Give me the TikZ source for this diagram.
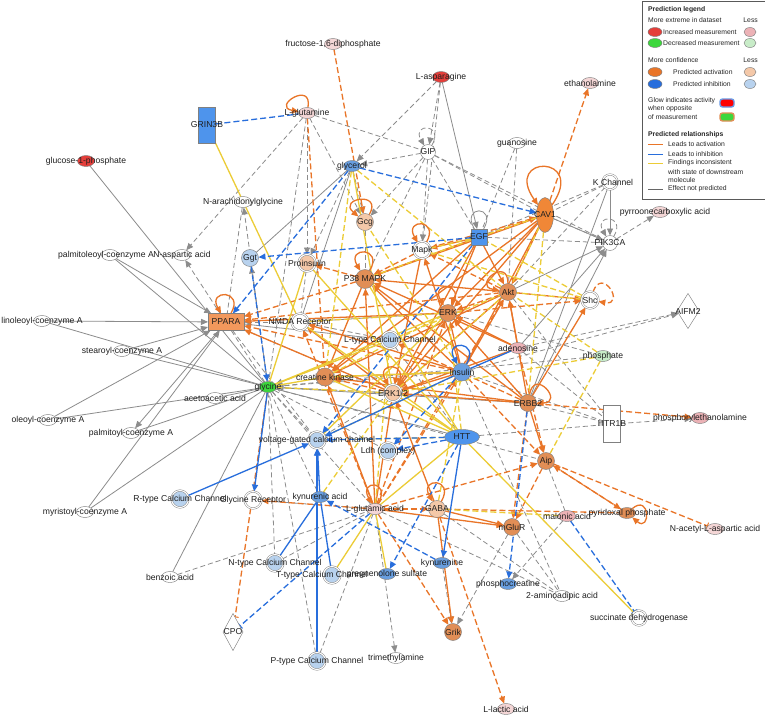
\documentclass[tikz,border=0pt]{standalone}
\usepackage{fontspec}
\setmainfont{Liberation Sans}
\usetikzlibrary{shapes.geometric,arrows.meta}
\pgfdeclarelayer{back}
\pgfdeclarelayer{bg}
\pgfsetlayers{back,bg,main}
\newcommand\nlab{\fontsize{8.6}{9}\selectfont}
\newcommand\lgd{\fontsize{6.8}{7.5}\selectfont}
\definecolor{cRed}{RGB}{228,62,58}
\definecolor{cPink}{RGB}{236,178,182}
\definecolor{cPinkL}{RGB}{244,214,214}
\definecolor{cGreen}{RGB}{60,215,60}
\definecolor{cGreenL}{RGB}{200,236,200}
\definecolor{cOrS}{RGB}{240,135,55}
\definecolor{cPP}{RGB}{242,152,92}
\definecolor{cOr}{RGB}{225,142,86}
\definecolor{cPeach}{RGB}{244,200,168}
\definecolor{cBlue}{RGB}{78,148,236}
\definecolor{cBlueM}{RGB}{104,158,224}
\definecolor{cBlueL}{RGB}{184,210,238}
\definecolor{eGray}{RGB}{140,140,140}
\definecolor{eOr}{RGB}{233,117,40}
\definecolor{eBl}{RGB}{40,110,220}
\definecolor{eYe}{RGB}{236,204,54}
\tikzset{
 nb/.style={draw=black!50, line width=0.45pt, inner sep=0pt, outer sep=0pt},
 chem/.style={nb, ellipse, minimum width=17pt, minimum height=11pt},
 prot/.style={nb, circle, minimum size=17pt},
 grp/.style={nb, circle, minimum size=17pt, double=white, double distance=1.1pt},
 box/.style={nb, rectangle},
 dia/.style={nb, diamond, fill=white},
 every label/.style={font=\nlab, inner sep=0pt, text=black!88},
 tip/.style={-{Triangle[length=7pt,width=6pt]}},
 bartip/.style={-{Bar[width=7pt,line width=1pt]}},
 gr/.style={line width=0.8pt, draw=eGray},
 grd/.style={gr, dash pattern=on 5pt off 3pt},
 act/.style={line width=1.3pt, draw=eOr},
 actd/.style={act, dash pattern=on 6pt off 3pt},
 inh/.style={line width=1.3pt, draw=eBl},
 inhd/.style={inh, dash pattern=on 6pt off 3pt},
 yel/.style={line width=1.3pt, draw=eYe},
 yeld/.style={yel, dash pattern=on 6pt off 3pt},
 lgt/.style={anchor=west, font=\lgd, inner sep=0pt, text=black!85},
 lgr/.style={anchor=east, font=\lgd, inner sep=0pt, text=black!85},
 lge/.style={nb, ellipse, minimum width=14pt, minimum height=9pt},
 sl/.style={min distance=28pt},
}
\begin{document}
\begin{tikzpicture}[x=1pt,y=1pt]
\useasboundingbox (0,0) rectangle (765,-715);
\begin{pgfonlayer}{back}
\fill[white] (0,0) rectangle (765,-715);
\end{pgfonlayer}
% ---------------- nodes ----------------
\node[chem,fill=cPinkL,label=center:{fructose-1,6-diphosphate}] (fru) at (333,-44) {};
\node[chem,fill=cRed,label=center:{L-asparagine}] (asn) at (441,-77) {};
\node[chem,fill=cPinkL,label=center:{ethanolamine}] (eth) at (590,-83) {};
\node[box,fill=cBlue,minimum width=17pt,minimum height=36pt,label=center:{GRIN3B}] (grin) at (207,-125) {};
\node[chem,fill=cPinkL,label=center:{L-glutamine}] (gln) at (307,-113) {};
\node[prot,fill=white,minimum size=15pt,label=center:{GIP}] (gip) at (428,-152) {};
\node[chem,fill=white,label=center:{guanosine}] (guo) at (517,-143) {};
\node[chem,fill=cRed,label=center:{glucose-1-phosphate}] (g1p) at (86,-161) {};
\node[chem,fill=cBlueM,label=center:{glycerol}] (glyc) at (352,-166) {};
\node[nb,ellipse,fill=cOrS,minimum width=17pt,minimum height=35pt,label=center:{CAV1}] (cav) at (545,-215) {};
\node[grp,fill=white,minimum size=15pt,label={[xshift=3pt]center:{K Channel}}] (kch) at (610,-182) {};
\node[chem,fill=cPinkL,label={[xshift=5pt]center:{pyrroonecarboxylic acid}}] (pyr) at (660,-212) {};
\node[prot,fill=white,minimum size=15pt,label=center:{PIK3CA}] (pik) at (610,-243) {};
\node[chem,fill=white,label=center:{N-arachidonylglycine}] (nag) at (243,-202) {};
\node[prot,fill=cPeach,label=center:{Gcg}] (gcg) at (365,-222) {};
\node[grp,fill=white,label=center:{Mapk}] (mapk) at (422,-250) {};
\node[box,fill=cBlue,minimum width=16pt,minimum height=16pt,label=center:{EGF}] (egf) at (479,-237) {};
\node[chem,fill=white,label={[xshift=-4pt]center:{palmitoleoyl-coenzyme A}}] (palm) at (110,-255) {};
\node[chem,fill=white,label=center:{N-aspartic acid}] (nasp) at (182,-255) {};
\node[prot,fill=cBlueL,label=center:{Ggt}] (ggt) at (250,-258) {};
\node[grp,fill=cPeach,label=center:{Proinsulin}] (proins) at (307,-263) {};
\node[prot,fill=cOr,minimum size=19pt,label=center:{P38 MAPK}] (p38) at (365,-279) {};
\node[prot,fill=cOr,label=center:{Akt}] (akt) at (508,-292) {};
\node[grp,fill=white,label=center:{Shc}] (shc) at (590,-300) {};
\node[dia,minimum width=22pt,minimum height=35pt,label=center:{AIFM2}] (aifm) at (688,-311) {};
\node[box,fill=cPP,minimum width=36pt,minimum height=17pt,label=center:{PPARA}] (ppara) at (226,-322) {};
\node[chem,fill=white,label=center:{linoleoyl-coenzyme A}] (lino) at (42,-321) {};
\node[grp,fill=white,label=center:{NMDA Receptor}] (nmda) at (300,-322) {};
\node[prot,fill=cOr,label=center:{ERK}] (erk) at (448,-313) {};
\node[chem,fill=white,label=center:{stearoyl-coenzyme A}] (stea) at (122,-351) {};
\node[grp,fill=cBlueL,label=center:{L-type Calcium Channel}] (ltype) at (390,-340) {};
\node[chem,fill=cPink,label=center:{adenosine}] (aden) at (518,-348) {};
\node[chem,fill=cGreenL,label=center:{phosphate}] (phos) at (603,-356) {};
\node[prot,fill=cBlueM,minimum size=18pt,label=center:{Insulin}] (ins) at (462,-372) {};
\node[chem,fill=cGreen,label=center:{glycine}] (gly) at (268,-387) {};
\node[chem,fill=white,label=center:{acetoacetic acid}] (acac) at (215,-398) {};
\node[prot,fill=cOr,minimum size=18pt,label=center:{creatine kinase}] (ck) at (325,-377) {};
\node[grp,fill=cPeach,label=center:{ERK1/2}] (erk12) at (393,-393) {};
\node[prot,fill=cOr,label=center:{ERBB2}] (erbb2) at (528,-403) {};
\node[chem,fill=white,label=center:{oleoyl-coenzyme A}] (oleo) at (48,-420) {};
\node[chem,fill=white,label=center:{palmitoyl-coenzyme A}] (palmi) at (131,-433) {};
\node[box,fill=white,minimum width=17pt,minimum height=37pt,label=center:{HTR1B}] (htr) at (612,-424) {};
\node[chem,fill=cPink,label=center:{phosphorylethanolamine}] (pe) at (700,-418) {};
\node[nb,ellipse,fill=cBlue,minimum width=35pt,minimum height=15pt,label=center:{HTT}] (htt) at (462,-437) {};
\node[grp,fill=cBlueL,label=center:{voltage-gated calcium channel}] (vgcc) at (317,-440) {};
\node[grp,fill=cBlueL,label=center:{Ldh (complex)}] (ldh) at (388,-451) {};
\node[prot,fill=cOr,label=center:{Aip}] (aip) at (546,-461) {};
\node[grp,fill=cBlueL,label=center:{R-type Calcium Channel}] (rtype) at (180,-499) {};
\node[chem,fill=white,label=center:{myristoyl-coenzyme A}] (myri) at (85,-512) {};
\node[grp,fill=white,label=center:{Glycine Receptor}] (glyr) at (253,-500) {};
\node[chem,fill=cBlueM,label=center:{kynurenic acid}] (kyna) at (320,-497) {};
\node[chem,fill=cPinkL,label=center:{L-glutamic acid}] (glu) at (375,-509) {};
\node[prot,fill=cPeach,label=center:{GABA}] (gaba) at (437,-509) {};
\node[prot,fill=cOr,label=center:{mGluR}] (mglur) at (512,-527) {};
\node[chem,fill=cPink,label=center:{malonic acid}] (mal) at (567,-516) {};
\node[chem,fill=cOr,label=center:{pyridoxal phosphate}] (pyp) at (627,-513) {};
\node[chem,fill=cPinkL,label=center:{N-acetyl-L-aspartic acid}] (naa) at (715,-529) {};
\node[chem,fill=white,label=center:{benzoic acid}] (benz) at (170,-577) {};
\node[grp,fill=cBlueL,label=center:{N-type Calcium Channel}] (ntype) at (275,-563) {};
\node[grp,fill=cBlueL,label={[xshift=-10pt]center:{T-type Calcium Channel}}] (ttype) at (332,-575) {};
\node[chem,fill=cBlueM,label=center:{pregnenolone sulfate}] (preg) at (387,-574) {};
\node[chem,fill=cBlueM,label=center:{kynurenine}] (kyn) at (442,-563) {};
\node[chem,fill=cBlueM,label=center:{phosphocreatine}] (pcr) at (508,-584) {};
\node[chem,fill=white,label=center:{2-aminoadipic acid}] (aad) at (562,-596) {};
\node[grp,fill=white,minimum size=15pt,label=center:{succinate dehydrogenase}] (sdh) at (639,-618) {};
\node[dia,minimum width=20pt,minimum height=37pt,label=center:{CPO}] (cpo) at (233,-632) {};
\node[prot,fill=cOr,label=center:{Grik}] (grik) at (453,-632) {};
\node[grp,fill=cBlueL,label=center:{P-type Calcium Channel}] (ptype) at (317,-661) {};
\node[chem,fill=white,label=center:{trimethylamine}] (tma) at (396,-658) {};
\node[chem,fill=cPinkL,label=center:{L-lactic acid}] (lac) at (506,-709) {};
% ---------------- edges ----------------
\begin{pgfonlayer}{bg}
% gray solid
\foreach \a/\b in {g1p/gly,palm/gly,lino/gly,stea/gly,oleo/gly,palmi/gly,myri/gly,acac/gly,benz/gly,kch/erbb2,glyc/nmda,gly/htt,gly/erbb2,glyc/ggt,nmda/erk,ppara/ltype}
  \draw[gr] (\a) -- (\b);
\foreach \a/\b in {palm/ppara,lino/ppara,stea/ppara,oleo/ppara,myri/ppara,ppara/palmi,asn/egf,kch/pik,cav/pik,akt/pik,aden/pik,erbb2/pik}
  \draw[gr,tip] (\a) -- (\b);
% gray dashed
\foreach \a/\b in {gln/gip,asn/mapk,gip/cav,gip/pik,gip/egf,guo/akt,guo/egf,kch/cav,kch/egf,kch/akt,cav/pik,egf/pik,aden/htr,ins/htr,htt/htr,erbb2/htr,mglur/aad,gaba/aad,glu/aad,benz/glu,ntype/glu,ptype/glu,gly/glyr,gly/kyna,gly/glu,gly/ntype,gly/ldh,gly/vgcc,gly/aip,ppara/vgcc,gcg/p38,proins/nmda,nmda/ltype,ltype/htt,gly/erk12,gly/ins,gly/phos,ppara/erk12,gip/p38,gln/gly,nag/ppara,ptype/gly,aip/mal,ins/aad,erk/phos,akt/htr,vgcc/erk12,glyr/glu}
  \draw[grd] (\a) -- (\b);
\foreach \a/\b in {gln/nasp,gln/gcg,gln/proins,gly/nag,gly/nasp,asn/gip,asn/glyc,gip/glyc,gip/gcg,gip/mapk,glyc/gcg,glyc/proins,pik/pyr,aden/aifm,ins/aifm,htr/pe,mal/pcr,glu/tma,kyn/grik,mglur/grik,nmda/ppara,gly/ggt,ltype/gly,erk12/gly}
  \draw[grd,tip] (\a) -- (\b);
% orange solid
\foreach \a/\b in {ins/akt,ins/erk,ins/erk12,ins/p38,ins/mapk,egf/akt,egf/erk,egf/erk12,egf/p38,egf/mapk,erbb2/akt,erbb2/erk,erbb2/erk12,erbb2/shc,erbb2/aip,cav/erk12,cav/p38,cav/akt,aden/akt,aden/erk,aden/erk12,glu/erk12,glu/p38,glu/ck,glu/mglur,gaba/grik,gaba/erk12,erk12/ppara,akt/erk12,akt/p38,mapk/erk12,ins/ck,egf/ck,erbb2/p38,aden/p38,ins/nmda,gaba/mglur,cav/erk,akt/ck,erk/erk12,cav/ins,cav/ck,erbb2/ck,erk12/nmda,p38/ck,erk/ppara}
  \draw[act,tip] (\a) -- (\b);
% orange dashed
\foreach \a/\b in {fru/gcg,gln/ck,cav/eth,egf/cav,mapk/cav,erbb2/pe,aip/pyp,pyp/aip,glu/grik,gaba/lac,glu/glyr,glu/ins,glu/erk,glu/akt,glu/aip,p38/ppara,akt/shc,erk/shc,aip/mglur,erbb2/mglur,ins/aip,glu/nmda,aden/aip,glu/gaba,erk12/ck,ins/ppara,akt/erk,p38/proins,mapk/p38,akt/mapk,akt/ppara,erbb2/ltype}
  \draw[actd,tip] (\a) -- (\b);
\draw[actd] (gaba) -- (pyp);
\draw[actd,bartip] (aip) -- (naa);
\draw[actd,bartip] (gly) -- (cpo);
% yellow
\foreach \a/\b in {grin/nmda,glyc/erk12,gly/ck,gly/ltype,htt/erk12,htt/ck,ttype/glu,preg/glu,htt/p38,gly/erk,htt/proins,gly/proins,nmda/htt,ck/ins,glu/htt,vgcc/erk}
  \draw[yel] (\a) -- (\b);
\draw[yel,bartip] (htt) -- (sdh);
\foreach \a/\b in {glyc/akt,glyc/ck,phos/aip,phos/akt,phos/erk12,shc/akt,shc/egf,cav/akt,cav/egf,cav/erbb2,egf/mapk,egf/p38,gaba/ins,htt/vgcc,gaba/mal,shc/mapk,gly/erk12,htt/erk,ins/gcg,vgcc/ins,erk12/akt,ck/erk,ltype/akt,kyna/erk12,glu/ltype,nmda/erk}
  \draw[yeld] (\a) -- (\b);
% blue solid
\foreach \a/\b in {rtype/vgcc,ptype/vgcc,kyna/vgcc,gly/glyr,ins/vgcc,htt/kyn}
  \draw[inh,tip] (\a) -- (\b);
\foreach \a/\b in {ntype/kyna,ttype/kyna,ins/aden}
  \draw[inh] (\a) -- (\b);
% blue dashed
\foreach \a/\b in {egf/ggt,ggt/gly,glyc/cav,glyc/ppara,kyn/kyna,htt/ldh,htt/vgcc,erbb2/pcr,htt/preg,egf/vgcc,ins/ldh}
  \draw[inhd,tip] (\a) -- (\b);
\draw[inhd] (grin) -- (gln);
\draw[inhd,bartip] (glu) -- (cpo);
\draw[inhd,bartip] (mal) -- (sdh);
% self loops
\draw[act,tip] (gln) to[out=80,in=170,sl] (gln);
\draw[act,tip] (gcg) to[out=60,in=140,sl] (gcg);
\draw[act,tip] (mapk) to[out=60,in=120,sl] (mapk);
\draw[act,tip] (p38) to[out=60,in=120,sl] (p38);
\draw[act,tip] (erk) to[out=60,in=120,sl] (erk);
\draw[act,tip] (akt) to[out=90,in=170,sl] (akt);
\draw[actd,tip] (shc) to[out=70,in=-10,sl] (shc);
\draw[inh,tip] (ins) to[out=60,in=120,sl] (ins);
\draw[act,tip] (erk12) to[out=60,in=120,sl] (erk12);
\draw[act,tip] (ppara) to[out=60,in=120,sl] (ppara);
\draw[act,tip] (glu) to[out=60,in=120,sl] (glu);
\draw[act,tip] (gaba) to[out=60,in=120,sl] (gaba);
\draw[act,tip] (erbb2) to[out=80,in=0,sl] (erbb2);
\draw[act,tip] (pyp) to[out=40,in=-40,min distance=24pt] (pyp);
\draw[act,tip] (cav) to[out=55,in=125,min distance=62pt] (cav);
\draw[gr] (egf) to[out=60,in=120,sl] (egf);
\draw[grd,tip] (gip) to[out=60,in=120,min distance=26pt] (gip);
\draw[grd,tip] (pik) to[out=60,in=120,min distance=26pt] (pik);
\end{pgfonlayer}
% ---------------- legend ----------------
\node[draw=black!65,line width=0.5pt,fill=white,minimum width=123pt,minimum height=198pt,anchor=north west,inner sep=0pt] (leg) at (641.5,-0.5) {};
\node[lgt] (l1) at (648,-10) {\bfseries Prediction legend};
\node[lgt] (l2) at (648,-20) {More extreme in dataset};
\node[lgr] (l2b) at (758,-20) {Less};
\node[lge,fill=cRed] (e1) at (655,-32) {};
\node[lgt] (l3) at (663,-32) {Increased measurement};
\node[lge,fill=cPink,minimum width=12pt] (e1b) at (750,-32) {};
\node[lge,fill=cGreen] (e2) at (655,-43) {};
\node[lgt] (l4) at (663,-43) {Decreased measurement};
\node[lge,fill=cGreenL,minimum width=12pt] (e2b) at (750,-43) {};
\node[lgt] (l5) at (648,-60) {More confidence};
\node[lgr] (l5b) at (758,-60) {Less};
\node[lge,fill=eOr] (e3) at (655,-72) {};
\node[lgt] (l6) at (673,-72) {Predicted activation};
\node[lge,fill=cPeach,minimum width=12pt] (e3b) at (750,-72) {};
\node[lge,fill=eBl] (e4) at (655,-84) {};
\node[lgt] (l7) at (673,-84) {Predicted inhibition};
\node[lge,fill=cBlueL,minimum width=12pt] (e4b) at (750,-84) {};
\node[lgt] (l8) at (648,-101) {Glow indicates activity};
\node[lgt] (l9) at (648,-109) {when opposite};
\node[lgt] (l10) at (648,-117) {of measurement};
\node[draw=eBl!70,line width=1.4pt,fill=red,rounded corners=2.5pt,minimum width=14pt,minimum height=8pt,inner sep=0pt] (g1) at (727,-103) {};
\node[draw=cOr,line width=1.4pt,fill=cGreen,rounded corners=2.5pt,minimum width=14pt,minimum height=8pt,inner sep=0pt] (g2) at (727,-117) {};
\node[lgt] (l11) at (648,-135) {\bfseries Predicted relationships};
\coordinate (a1) at (648,-144); \coordinate (a2) at (663,-144);
\coordinate (b1) at (648,-154); \coordinate (b2) at (663,-154);
\coordinate (c1) at (648,-163); \coordinate (c2) at (663,-163);
\coordinate (d1) at (648,-189); \coordinate (d2) at (663,-189);
\draw[line width=1pt,draw=eOr] (a1) -- (a2);
\draw[line width=1pt,draw=eBl] (b1) -- (b2);
\draw[line width=1pt,draw=eYe] (c1) -- (c2);
\draw[line width=1pt,draw=black!60] (d1) -- (d2);
\node[lgt] (l12) at (668,-144) {Leads to activation};
\node[lgt] (l13) at (668,-154) {Leads to inhibition};
\node[lgt] (l14) at (668,-163) {Findings inconsistent};
\node[lgt] (l15) at (668,-172) {with state of downstream};
\node[lgt] (l16) at (668,-180) {molecule};
\node[lgt] (l17) at (668,-189) {Effect not predicted};
\end{tikzpicture}
\end{document}
